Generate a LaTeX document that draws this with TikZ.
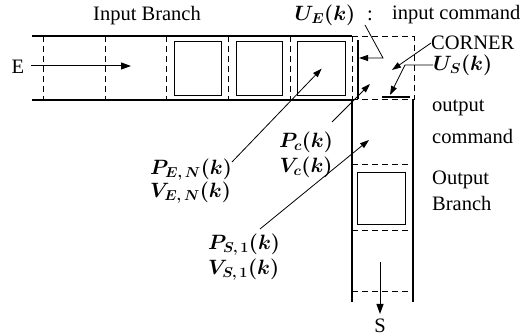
\documentclass[tikz,border=0pt]{standalone}
\usepackage{fontspec}
\setmainfont{Liberation Serif}
\usetikzlibrary{arrows.meta}
\begin{document}
\begin{tikzpicture}[x=1pt,y=-1pt,
  wall/.style={line width=1.1pt},
  cellsep/.style={line width=1pt,dash pattern=on 6pt off 4pt},
  cellbox/.style={draw,line width=1.3pt},
  flow/.style={line width=1pt,-{Triangle[length=10pt,width=7pt]}},
  leader/.style={line width=0.8pt,-{Triangle[length=9pt,width=6pt]}},
  txt/.style={inner sep=0pt,font=\fontsize{20.5}{23}\selectfont},
  lbl/.style={inner sep=0pt,font=\fontsize{20}{23}\selectfont\boldmath}]
\useasboundingbox (0,0) rectangle (528,336);
% input branch walls
\draw[wall] (32,36) -- (352,36);
\draw[wall] (32,100) -- (352,100);
\foreach \x in {43,105,166,228,290,352}
  \draw[cellsep] (\x,36) -- (\x,100);
% cells with contents
\node[cellbox,minimum width=47pt,minimum height=54pt,anchor=north west] (sq1) at (174,41) {};
\node[cellbox,minimum width=46pt,minimum height=54pt,anchor=north west] (sq2) at (236,41) {};
\node[cellbox,minimum width=48pt,minimum height=54pt,anchor=north west] (sq3) at (297,41) {};
% corner
\draw[cellsep] (352,37) -- (414,37) -- (414,100);
\draw[wall] (358,40) -- (358,99);
\draw[wall] (382,97) -- (410,97);
\draw[cellsep] (352,100) -- (414,100);
% output branch
\draw[wall] (352,100) -- (352,302);
\draw[wall] (413,100) -- (413,302);
\foreach \y in {165,231,292}
  \draw[cellsep] (352,\y) -- (413,\y);
\node[cellbox,minimum width=48pt,minimum height=52pt,anchor=north west] (sq4) at (357,172) {};
% target points
\coordinate (cin) at (359,58);
\coordinate (cmid) at (392,70);
\coordinate (cbot) at (390,95);
\coordinate (cpc) at (370,84);
\coordinate (out1) at (369,140);
% labels
\node[txt] (inb) at (147,16) {Input Branch};
\node[lbl] (ue) at (325,15) {$U_E(k)$};
\node[txt] (colon) at (370,16) {:};
\node[txt,anchor=west] (inc) at (392,15) {input command};
\node[txt,anchor=west] (corner) at (431,43) {CORNER};
\node[lbl,anchor=west] (us) at (433,65) {$U_S(k)$};
\node[txt,anchor=west] (oc1) at (432,108) {output};
\node[txt,anchor=west] (oc2) at (432,136) {command};
\node[txt,anchor=west] (ob1) at (432,180) {Output};
\node[txt,anchor=west] (ob2) at (432,203) {Branch};
\node[lbl,anchor=west] (pen) at (150,170) {$P_{E,\,N}(k)$};
\node[lbl,anchor=west] (ven) at (150,193) {$V_{E,\,N}(k)$};
\node[lbl] (pc) at (306,142) {$P_c(k)$};
\node[lbl] (vc) at (306,167) {$V_c(k)$};
\node[lbl,anchor=west] (ps) at (208,245) {$P_{S,\,1}(k)$};
\node[lbl,anchor=west] (vs) at (208,270) {$V_{S,\,1}(k)$};
\node[txt] (E) at (18,67) {E};
\node[txt] (S) at (380,326) {S};
% flow arrows
\coordinate (ein) at (31,66);
\coordinate (eout) at (131,66);
\draw[flow] (ein) -- (eout);
\coordinate (sin) at (380,262);
\coordinate (sout) at (380,314);
\draw[flow] (sin) -- (sout);
% leaders
\coordinate (uel) at (365,25);
\coordinate (uek) at (383,58);
\draw[leader] (uel) -- (uek) -- (cin);
\draw[leader] (corner.west) -- (cmid);
\coordinate (usk) at (405,65);
\draw[leader] (us.west) -- (usk) -- (cbot);
\coordinate (pens) at (232,162);
\draw[leader] (pens) -- (sq3.center);
\coordinate (pcs) at (332,122);
\draw[leader] (pcs) -- (cpc);
\coordinate (pss) at (260,229);
\draw[leader] (pss) -- (out1);
\end{tikzpicture}
\end{document}
